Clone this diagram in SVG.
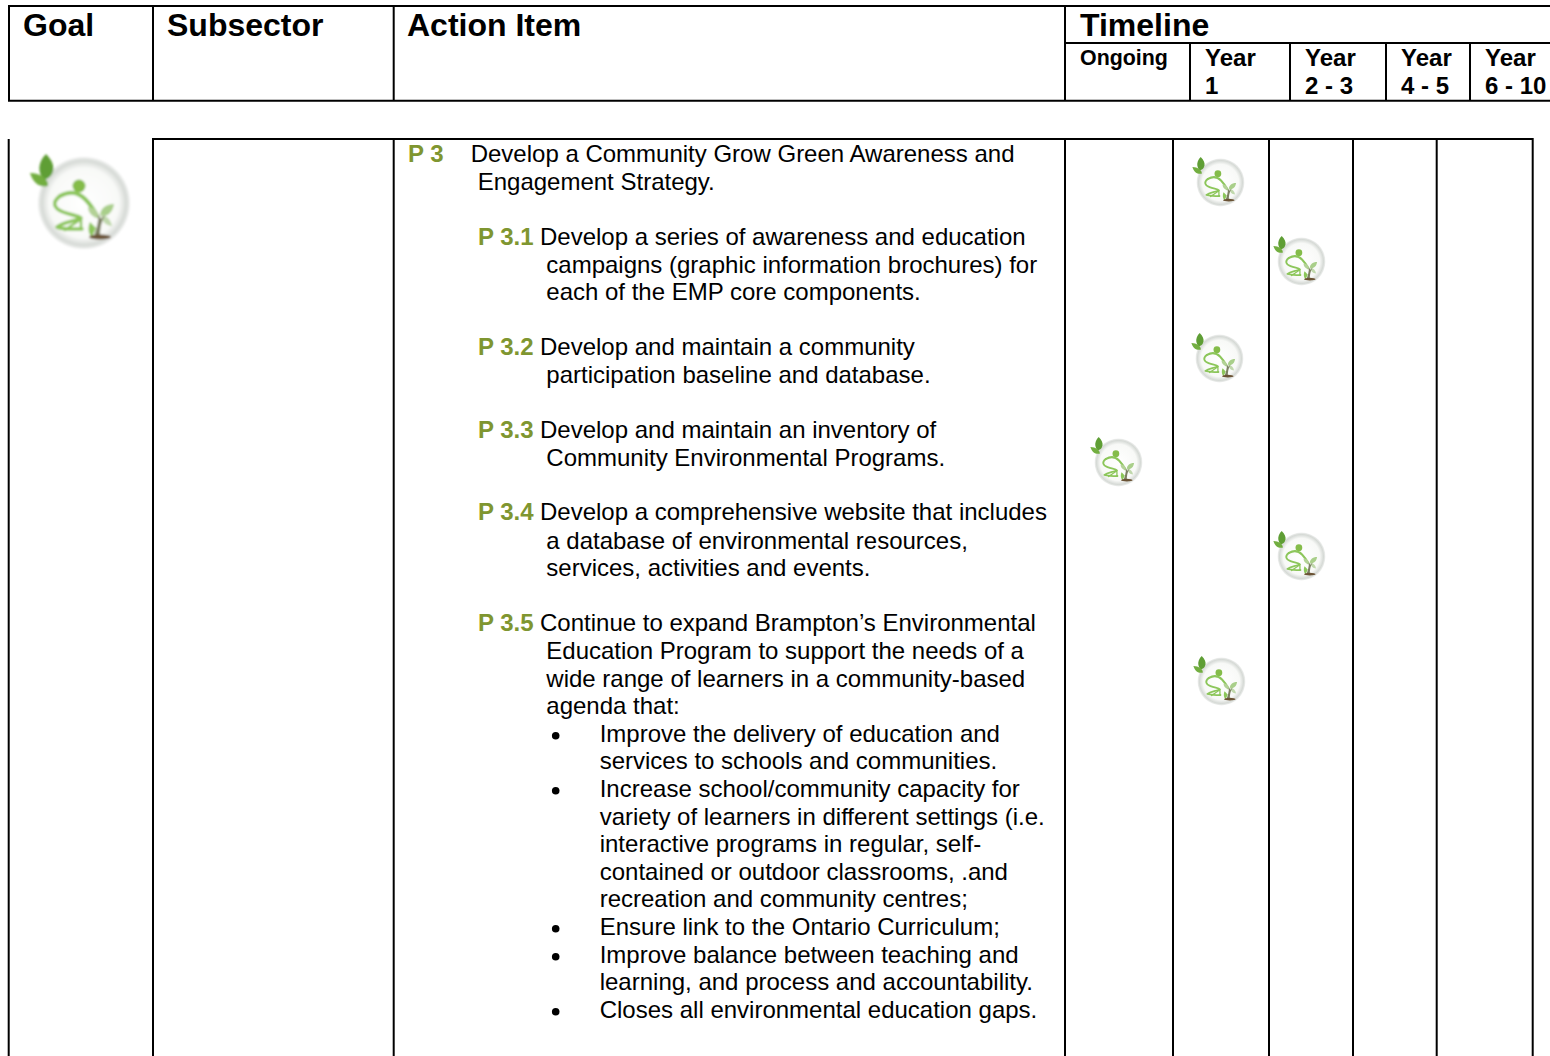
<svg xmlns="http://www.w3.org/2000/svg" width="1550" height="1056" viewBox="0 0 1550 1056">
<style>
text{font-family:"Liberation Sans",Arial,sans-serif;fill:#000}
.h1{font-size:32px;font-weight:bold}
.h2{font-size:24px;font-weight:bold}
.on{font-size:21.4px;font-weight:bold}
.b{font-size:24px}
.p{font-size:24px;font-weight:bold;fill:#7f9630}
.r{stroke:#000;stroke-width:2;fill:none}
.s{fill:none;stroke:#8cc65a;stroke-linecap:round;stroke-linejoin:round}
</style>
<defs>
<radialGradient id="disc" cx="50%" cy="50%" r="50%">
<stop offset="0" stop-color="#ffffff"/><stop offset="0.76" stop-color="#f8f9f7"/><stop offset="0.92" stop-color="#d6dad6"/><stop offset="1" stop-color="#f0f1f0"/>
</radialGradient>
<filter id="soft" x="-20%" y="-20%" width="140%" height="140%"><feGaussianBlur stdDeviation="0.9"/></filter>
<g id="icon" filter="url(#soft)">
<circle cx="-1" cy="-1" r="46" fill="url(#disc)"/>
<path d="M-39-50C-47-42-48-32-41-24C-31-27-27-38-39-50Z" fill="#5f9e34"/>
<path d="M-55-31C-52-21-45-16-37-18C-36-25-45-31-55-31Z" fill="#72ae40"/>
<circle cx="-6" cy="-18" r="6.5" fill="#84bc4a"/>
<path class="s" stroke-width="4" d="M-25-8C-16-13-7-12 0-5C5 0 9 6 12 12"/>
<path class="s" stroke-width="3.5" d="M-25-8C-33-2-32 4-22 8C-14 11-6 12-4 14C-12 18-22 18-28 23C-20 26-10 25-3 25"/>
<path class="s" stroke-width="2.5" d="M-20 26L-4 15L-4 24"/>
<path d="M3 3C10 3 14 8 14 14C8 14 3 9 3 3Z" fill="#b3d296"/>
<path d="M29 0C20 0 15 5 15 12C23 13 28 8 29 0Z" fill="#a9cf8a"/>
<path d="M16 10C22 12 26 16 27 22C21 22 16 17 16 10Z" fill="#c0d8ac"/>
<path d="M13 10C14 18 11 26 9 32L15 32C15 25 16 18 20 11L16 15Z" fill="#7b7f62"/>
<path d="M5 18C2 25 4 31 7 33L11 24Z" fill="#8cc65a"/>
<ellipse cx="15" cy="33" rx="11" ry="2.5" fill="#6b5234"/>
</g>
</defs>
<g id="connectors">
<path class="r" d="M1550 6H9V100.700H1550M153 6V100.700M393.700 6V100.700M1065 6V100.700M1065 43H1550M1190 43V100.700M1290 43V100.700M1386 43V100.700M1470 43V100.700"/>
<path class="r" d="M8.700 1056V139M153 1056V139H1532.700V1056M393.700 139V1056M1065 139V1056M1173 139V1056M1269 139V1056M1353 139V1056M1436.700 139V1056"/>
</g>
<g id="header">
<text class="h1" x="23" y="36">Goal</text>
<text class="h1" x="167" y="36">Subsector</text>
<text class="h1" x="407" y="36">Action Item</text>
<text class="h1" x="1080" y="36">Timeline</text>
<text class="on" x="1080" y="65">Ongoing</text>
<text class="h2" x="1205" y="66">Year</text><text class="h2" x="1205" y="94">1</text>
<text class="h2" x="1305" y="66">Year</text><text class="h2" x="1305" y="94">2 - 3</text>
<text class="h2" x="1401" y="66">Year</text><text class="h2" x="1401" y="94">4 - 5</text>
<text class="h2" x="1485" y="66">Year</text><text class="h2" x="1485" y="94">6 - 10</text>
</g>
<g id="icons">
<use id="icon-goal" href="#icon" transform="translate(85 204)"/>
<use id="icon-p3" href="#icon" transform="translate(1221 183) scale(.52)"/>
<use id="icon-p31" href="#icon" transform="translate(1302 262) scale(.52)"/>
<use id="icon-p32" href="#icon" transform="translate(1220 359) scale(.52)"/>
<use id="icon-ongoing" href="#icon" transform="translate(1119 463) scale(.52)"/>
<use id="icon-p34" href="#icon" transform="translate(1302 557) scale(.52)"/>
<use id="icon-p35" href="#icon" transform="translate(1222 682) scale(.52)"/>
</g>
<g id="actions">
<text class="p" x="408" y="162">P 3</text>
<text class="b" x="470.700" y="162">Develop a Community Grow Green Awareness and</text>
<text class="b" x="477.700" y="190">Engagement Strategy.</text>
<text class="p" x="478" y="245">P 3.1</text>
<text class="b" x="540" y="245">Develop a series of awareness and education</text>
<text class="b" x="546.300" y="273">campaigns (graphic information brochures) for</text>
<text class="b" x="546.300" y="300">each of the EMP core components.</text>
<text class="p" x="478" y="355">P 3.2</text>
<text class="b" x="540" y="355">Develop and maintain a community</text>
<text class="b" x="546.300" y="383">participation baseline and database.</text>
<text class="p" x="478" y="438">P 3.3</text>
<text class="b" x="540" y="438">Develop and maintain an inventory of</text>
<text class="b" x="546.300" y="466">Community Environmental Programs.</text>
<text class="p" x="478" y="520">P 3.4</text>
<text class="b" x="540" y="520">Develop a comprehensive website that includes</text>
<text class="b" x="546.300" y="549">a database of environmental resources,</text>
<text class="b" x="546.300" y="576">services, activities and events.</text>
<text class="p" x="478" y="631">P 3.5</text>
<text class="b" x="540" y="631">Continue to expand Brampton’s Environmental</text>
<text class="b" x="546.300" y="659">Education Program to support the needs of a</text>
<text class="b" x="546.300" y="687">wide range of learners in a community-based</text>
<text class="b" x="546.300" y="714">agenda that:</text>
<text class="b" x="599.700" y="742">Improve the delivery of education and</text>
<text class="b" x="599.700" y="769">services to schools and communities.</text>
<text class="b" x="599.700" y="797">Increase school/community capacity for</text>
<text class="b" x="599.700" y="825">variety of learners in different settings (i.e.</text>
<text class="b" x="599.700" y="852">interactive programs in regular, self-</text>
<text class="b" x="599.700" y="880">contained or outdoor classrooms, .and</text>
<text class="b" x="599.700" y="907">recreation and community centres;</text>
<text class="b" x="599.700" y="935">Ensure link to the Ontario Curriculum;</text>
<text class="b" x="599.700" y="963">Improve balance between teaching and</text>
<text class="b" x="599.700" y="990">learning, and process and accountability.</text>
<text class="b" x="599.700" y="1018">Closes all environmental education gaps.</text>
<circle cx="555.700" cy="735.700" r="3.800"/><circle cx="555.700" cy="790.700" r="3.800"/><circle cx="555.700" cy="928.700" r="3.800"/><circle cx="555.700" cy="956.700" r="3.800"/><circle cx="555.700" cy="1011.700" r="3.800"/>
</g>
</svg>
